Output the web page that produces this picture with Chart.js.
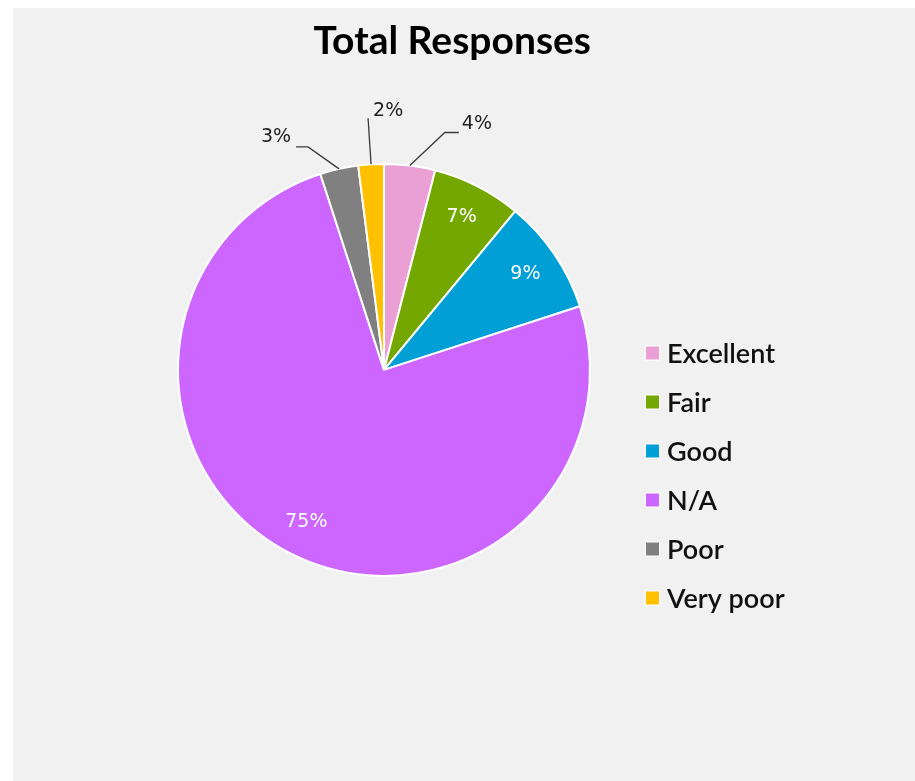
<!DOCTYPE html>
<html>
<head>
<meta charset="utf-8">
<title>Total Responses</title>
<script src="https://cdn.jsdelivr.net/npm/chart.js@4/dist/chart.umd.min.js"></script>
<style>
  html, body { margin: 0; padding: 0; background: #ffffff; }
  #wrap { position: relative; width: 915px; height: 781px; }
  canvas { display: block; }
</style>
</head>
<body>
<div id="wrap"><canvas id="responses" width="915" height="781"></canvas></div>
<script>
// Survey answers, share of all responses (%)
const categories = ['Excellent', 'Fair', 'Good', 'N/A', 'Poor', 'Very poor'];
const shares = [4, 7, 9, 75, 3, 2];
const sliceColors = ['#EA9FD5', '#74A800', '#00A0D6', '#CC66FF', '#808080', '#FFC000'];

// Small slices get their label outside, joined by a leader line
const callouts = {
  'Excellent': { elbow: [35, -33], run: 14, text: [3, -8], align: 'left' },
  'Very poor': { elbow: [-3, -46], run: 0, text: [5, -7], align: 'left' },
  'Poor':      { elbow: [-31, -22], run: -12, text: [-5, -10], align: 'right' }
};

const legendBox = { x: 646, top: 353, step: 49, size: 13 };

const panelBackground = {
  id: 'panelBackground',
  beforeDraw(chart) {
    const { ctx, width, height } = chart;
    ctx.save();
    ctx.fillStyle = '#ffffff';
    ctx.fillRect(0, 0, width, height);
    ctx.fillStyle = '#f1f1f1';
    ctx.fillRect(13, 8, width - 13, height - 8);
    ctx.restore();
  }
};

const sliceLabels = {
  id: 'sliceLabels',
  afterDatasetsDraw(chart) {
    const { ctx } = chart;
    const meta = chart.getDatasetMeta(0);
    ctx.save();
    ctx.font = '19px "DejaVu Sans"';
    ctx.textBaseline = 'middle';
    meta.data.forEach((arc, i) => {
      const { x, y, startAngle, endAngle, outerRadius } =
        arc.getProps(['x', 'y', 'startAngle', 'endAngle', 'outerRadius'], true);
      const mid = (startAngle + endAngle) / 2;
      const cos = Math.cos(mid), sin = Math.sin(mid);
      const text = shares[i] + '%';
      const c = callouts[categories[i]];
      if (!c) {
        ctx.fillStyle = '#ffffff';
        ctx.textAlign = 'center';
        ctx.fillText(text, x + cos * outerRadius * 0.83, y + sin * outerRadius * 0.83);
        return;
      }
      const sx = x + cos * outerRadius, sy = y + sin * outerRadius;
      const ex = sx + c.elbow[0], ey = sy + c.elbow[1];
      const hx = ex + c.run;
      ctx.strokeStyle = '#3a3a3a';
      ctx.lineWidth = 1.3;
      ctx.beginPath();
      ctx.moveTo(sx, sy);
      ctx.lineTo(ex, ey);
      if (c.run) ctx.lineTo(hx, ey);
      ctx.stroke();
      ctx.fillStyle = '#1e1e1e';
      ctx.textAlign = c.align;
      ctx.fillText(text, hx + c.text[0], ey + c.text[1]);
    });
    ctx.restore();
  }
};

const sideLegend = {
  id: 'sideLegend',
  afterDraw(chart) {
    const { ctx } = chart;
    const colors = chart.data.datasets[0].backgroundColor;
    const { x, top, step, size } = legendBox;
    ctx.save();
    ctx.font = '600 27px Lato';
    ctx.textAlign = 'left';
    ctx.textBaseline = 'middle';
    chart.data.labels.forEach((label, i) => {
      const cy = top + i * step;
      ctx.fillStyle = '#ffffff';
      ctx.fillRect(x - 1, cy - size / 2 - 1, size + 2, size + 2);
      ctx.fillStyle = colors[i];
      ctx.fillRect(x, cy - size / 2, size, size);
      ctx.fillStyle = '#111111';
      ctx.fillText(label, x + 21, cy + 1);
    });
    ctx.restore();
  }
};

new Chart(document.getElementById('responses'), {
  type: 'pie',
  data: {
    labels: categories,
    datasets: [{
      data: shares,
      backgroundColor: sliceColors,
      borderColor: '#ffffff',
      borderWidth: 2
    }]
  },
  options: {
    responsive: false,
    animation: false,
    layout: { padding: { left: 177, right: 324, top: 0, bottom: 204 } },
    plugins: {
      legend: { display: false },
      tooltip: { enabled: false },
      title: {
        display: true,
        text: 'Total Responses',
        align: 'end',
        color: '#000000',
        font: { family: 'Lato', size: 39, weight: 'bold', lineHeight: 1.2 },
        padding: { top: 18, bottom: 98 }
      }
    }
  },
  plugins: [panelBackground, sliceLabels, sideLegend]
});
</script>
</body>
</html>
